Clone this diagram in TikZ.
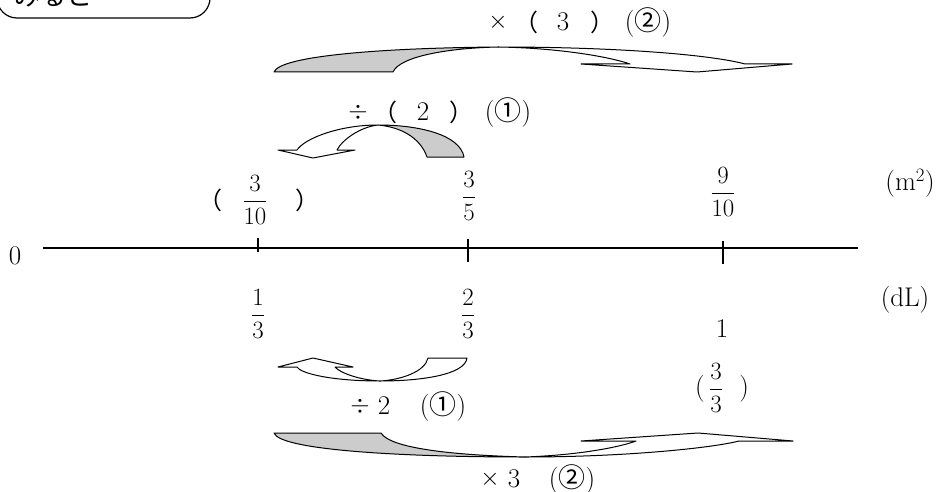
\documentclass[tikz,border=0pt]{standalone}
\usepackage{fontspec}
\newfontfamily\cjk{Noto Sans CJK JP}
\begin{document}
\begin{tikzpicture}[x=1pt,y=-1pt,
  lbl/.style={inner sep=0pt,font=\fontsize{27}{32}\selectfont},
  frac/.style={inner sep=0pt,font=\fontsize{27}{32}\selectfont},
  bp/.style={inner sep=0pt,font=\cjk\fontsize{24}{28}\selectfont},
  shp/.style={draw=black,line width=1pt,line join=round},
  back/.style={shp,fill=shade},
  front/.style={shp,fill=white}]
\definecolor{shade}{gray}{0.8}
\useasboundingbox (0,0) rectangle (944,492);

% top-left box (cut off)
\draw[line width=1.2pt,rounded corners=20pt] (-3,-40) rectangle (210,18);
\node[lbl,anchor=base west,font=\cjk\fontsize{26}{30}\selectfont] (box) at (14,6) {みると・・};

% axis
\node[lbl] (zero) at (15,256) {0};
\coordinate (axL) at (43,248);
\coordinate (axR) at (858,248);
\draw[line width=1.6pt] (axL) -- (axR);
\coordinate (t1) at (258,248);
\coordinate (t2) at (468,248);
\coordinate (t3) at (723,248);
\draw[line width=1.2pt] ([yshift=-4pt]t1) -- ([yshift=10pt]t1);
\draw[line width=1.2pt] ([yshift=-14pt]t2) -- ([yshift=9pt]t2);
\draw[line width=1.2pt] ([yshift=-16pt]t3) -- ([yshift=7pt]t3);

% upper labels
\node[bp] (pl) at (210,200) {（};
\node[frac] (f310) at (255,200) {$\displaystyle\frac{3}{10}$};
\node[bp] (pr) at (307,200) {）};
\node[frac] (f35) at (469,196) {$\displaystyle\frac{3}{5}$};
\node[frac] (f910) at (723,192) {$\displaystyle\frac{9}{10}$};
\node[lbl] (m2) at (910,183) {(m\textsuperscript{2})};

% lower labels
\node[frac] (f13) at (258,314) {$\displaystyle\frac{1}{3}$};
\node[frac] (f23) at (468,314) {$\displaystyle\frac{2}{3}$};
\node[lbl] (one) at (722,329) {1};
\node[lbl] (dl) at (905,300) {(dL)};
\node[frac] (f33) at (722,388) {(\,$\displaystyle\frac{3}{3}$\ \ )};

% operation labels
\node[lbl] (tx) at (498,22) {$\times$};
\node[bp] (tpl) at (526,22) {（};
\node[lbl] (t3n) at (563,22) {3};
\node[bp] (tpr) at (602,22) {）};
\node[lbl] (tc) at (648,22) {({\cjk ②})};

\node[lbl] (mx) at (358,112) {$\div$};
\node[bp] (mpl) at (385,112) {（};
\node[lbl] (m2n) at (423,112) {2};
\node[bp] (mpr) at (461,112) {）};
\node[lbl] (mc) at (508,112) {({\cjk ①})};

\node[lbl] (bx) at (360,406) {$\div$};
\node[lbl] (b2n) at (384,406) {2};
\node[lbl] (bc) at (443,406) {({\cjk ①})};

\node[lbl] (lx) at (490,479) {$\times$};
\node[lbl] (l3n) at (514,479) {3};
\node[lbl] (lc) at (572,479) {({\cjk ②})};

% top arrow (x 3)
\path[back] (274,72) -- (393,72) .. controls (400,56) and (450,48) .. (498,47)
  .. controls (380,48) and (280,56) .. (274,72) -- cycle;
\path[front] (498,47) .. controls (620,47) and (712,55) .. (745,64)
  -- (792,64) -- (697,72) -- (581,64) -- (630,64)
  .. controls (610,57) and (560,48) .. (498,47) -- cycle;

% middle arrow (div 2, above axis)
\path[back] (427,157) -- (464,157) .. controls (460,135) and (420,125) .. (378,125)
  .. controls (400,127) and (420,137) .. (427,157) -- cycle;
\path[front] (378,125) .. controls (340,125) and (305,138) .. (297,150)
  -- (278,150) -- (313,158) -- (355,150) -- (337,150)
  .. controls (342,140) and (360,127) .. (378,125) -- cycle;

% lower arrow (div 2, below axis)
\path[front] (428,358) -- (467,358) .. controls (465,375) and (420,381) .. (380,381)
  .. controls (330,381) and (300,373) .. (297,367)
  -- (278,367) -- (313,358) -- (353,367) -- (335,367)
  .. controls (340,373) and (360,380) .. (380,381)
  .. controls (400,380) and (425,372) .. (428,358) -- cycle;

% bottom arrow (x 3)
\path[back] (274,433) -- (381,433) .. controls (390,448) and (450,455) .. (525,457)
  .. controls (400,457) and (280,450) .. (274,433) -- cycle;
\path[front] (525,457) .. controls (625,457) and (712,448) .. (739,441)
  -- (793,441) -- (698,433) -- (581,441) -- (636,441)
  .. controls (620,447) and (580,455) .. (525,457) -- cycle;
\end{tikzpicture}
\end{document}
